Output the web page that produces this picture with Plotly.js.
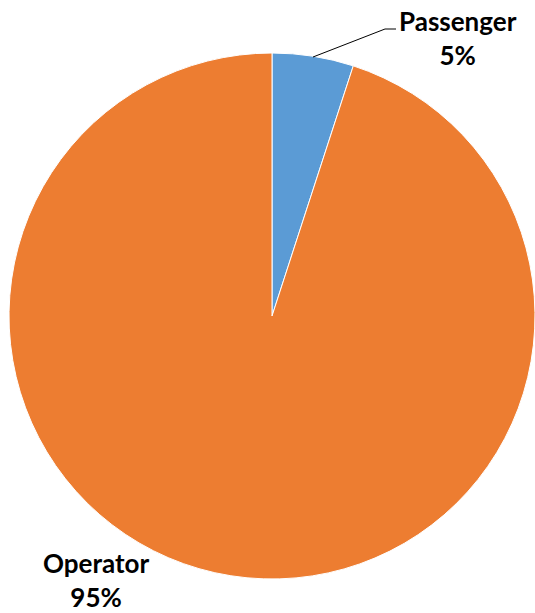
<!DOCTYPE html>
<html>
<head>
<meta charset="utf-8">
<script src="https://cdn.plot.ly/plotly-3.0.1.min.js"></script>
<style>html,body{margin:0;padding:0;background:#fff;}#chart{width:535px;height:613px;}</style>
</head>
<body>
<div id="chart"></div>
<script>
var categories = ["Passenger", "Operator"];
var values = [5, 95];
var colors = ["#5B9BD5", "#ED7D31"];

var W = 535, H = 613;
function px(x){return x/W;}
function py(y){return 1 - y/H;}

var total = values.reduce(function(a,b){return a+b;},0);
function pct(v){return Math.round(v/total*100) + "%";}

var trace = {
  type: "pie",
  labels: categories,
  values: values,
  sort: false,
  direction: "clockwise",
  rotation: 0,
  marker: {colors: colors, line: {color: "#ffffff", width: 1}},
  textinfo: "none",
  hoverinfo: "label+percent",
  showlegend: false,
  domain: {x: [px(9), px(535)], y: [py(579), py(53)]}
};

var font = {family: "Lato, 'Open Sans', sans-serif", size: 26, color: "#000"};
var layout = {
  width: W, height: H,
  margin: {l: 0, r: 0, t: 0, b: 0},
  paper_bgcolor: "#fff",
  showlegend: false,
  annotations: [
    {xref: "paper", yref: "paper", x: px(458), y: py(38), xanchor: "center", yanchor: "middle",
     text: "<b>" + categories[0] + "</b><br><b>" + pct(values[0]) + "</b>", showarrow: false, font: font, align: "center"},
    {xref: "paper", yref: "paper", x: px(96), y: py(580), xanchor: "center", yanchor: "middle",
     text: "<b>" + categories[1] + "</b><br><b>" + pct(values[1]) + "</b>", showarrow: false, font: font, align: "center"}
  ],
  shapes: [
    {type: "path", xref: "paper", yref: "paper",
     path: "M " + px(313) + " " + py(57) + " L " + px(385) + " " + py(29) + " L " + px(396) + " " + py(29),
     line: {color: "#000", width: 1}}
  ]
};
Plotly.newPlot("chart", [trace], layout, {displayModeBar: false, staticPlot: true});
</script>
</body>
</html>
